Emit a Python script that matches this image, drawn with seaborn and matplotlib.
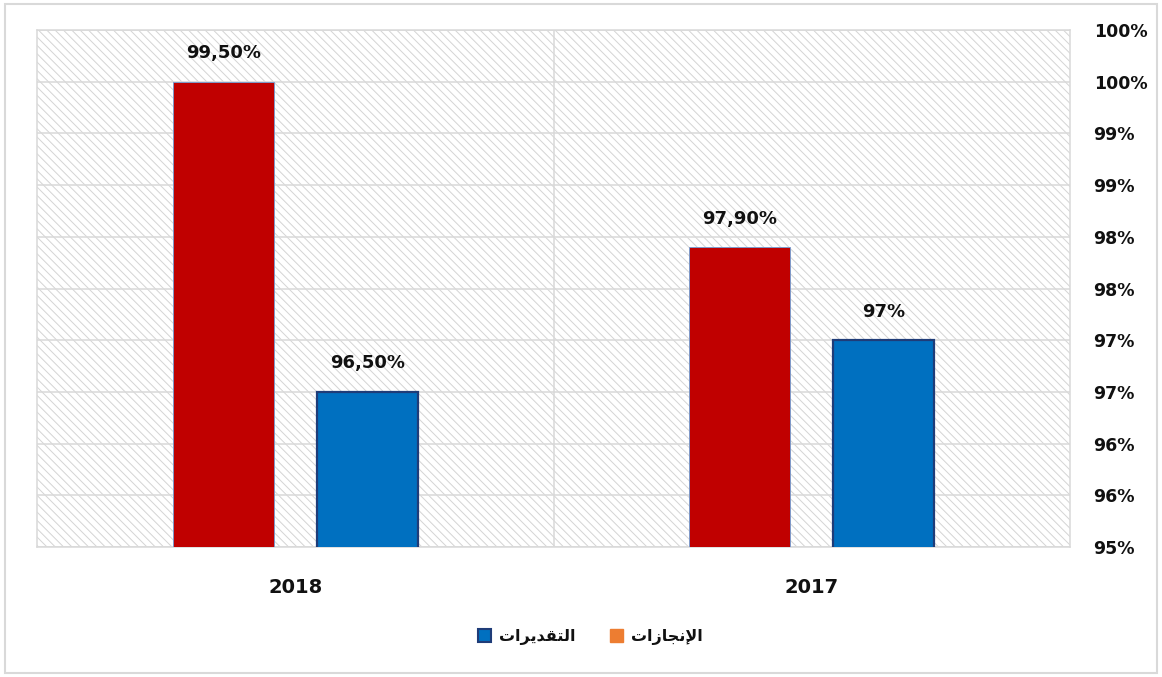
import pandas as pd
import matplotlib
matplotlib.use("Agg")
import matplotlib.pyplot as plt
import matplotlib.patches as mpatches
from matplotlib.ticker import FixedLocator, FuncFormatter
import seaborn as sns

# ----------------------------
# Data
# ----------------------------
years = ["2018", "2017"]
# Arabic labels already in presentation forms, visual order (matplotlib has no shaping)
achieved_name = "\uFE95\uFE8D\uFEAF\uFE8E\uFEA0\uFEE7\uFEF9\uFE8D"   # الإنجازات
estimate_name = "\uFE95\uFE8D\uFEAE\uFEF3\uFEAA\uFED8\uFE98\uFEDF\uFE8D"  # التقديرات
achieved = [0.995, 0.979]
estimates = [0.965, 0.970]
value_labels_achieved = ["99,50%", "97,90%"]
value_labels_estimates = ["96,50%", "97%"]
y_ticks = [0.95, 0.955, 0.96, 0.965, 0.97, 0.975, 0.98, 0.985, 0.99, 0.995, 1.0]

df = pd.DataFrame({
    "year": years * 2,
    "value": achieved + estimates,
    "series": [achieved_name] * 2 + [estimate_name] * 2,
})

RED = "#C00000"
BLUE = "#0070C0"
ORANGE = "#ED7D31"
TEXT = "#111111"

sns.set_style("white")
plt.rcParams["font.family"] = ["DejaVu Sans"]
plt.rcParams["hatch.linewidth"] = 0.7

fig = plt.figure(figsize=(11.62, 6.77), dpi=100)
ax = fig.add_axes([37 / 1162, 1 - 547 / 677, (1070 - 37) / 1162, 517 / 677])

# hatched plot area background
bg = mpatches.Rectangle((0, 0), 1, 1, transform=ax.transAxes, facecolor="white",
                        edgecolor="#D4D4D4", hatch="\\\\\\\\", linewidth=0, zorder=0)
ax.add_patch(bg)
ax.set_facecolor("none")

sns.barplot(data=df, x="year", y="value", hue="series", order=years,
            hue_order=[achieved_name, estimate_name],
            palette=[RED, BLUE], saturation=1, width=0.558, gap=0.3, ax=ax,
            legend=False, zorder=3)

for b in ax.containers[0]:
    b.set_edgecolor("#6FA0D8")
    b.set_linewidth(0.6)
for b in ax.containers[1]:
    b.set_edgecolor("#1F3C78")
    b.set_linewidth(1.6)

ax.set_ylim(0.95, 1.0)
ax.set_xlim(-0.5, 1.5)

# value labels
for container, labs in zip(ax.containers, [value_labels_achieved, value_labels_estimates]):
    ax.bar_label(container, labels=labs, padding=14, fontsize=13, fontweight="bold",
                 color=TEXT)

# axes styling
ax.yaxis.tick_right()
ax.yaxis.set_major_locator(FixedLocator(y_ticks))
ax.yaxis.set_major_formatter(FuncFormatter(lambda v, p: f"{round(v * 100 + 1e-9):.0f}%"))
ax.tick_params(axis="y", length=0, pad=17, labelsize=12.5)
ax.tick_params(axis="x", length=0, pad=22, labelsize=14)
for lab in ax.get_yticklabels() + ax.get_xticklabels():
    lab.set_fontweight("bold")
    lab.set_color(TEXT)
ax.set_xlabel("")
ax.set_ylabel("")

ax.grid(axis="y", color="#D9D9D9", linewidth=1.1, zorder=1)
ax.axvline(0.5, color="#D9D9D9", linewidth=1.1, zorder=1)
for s in ax.spines.values():
    s.set_color("#D9D9D9")
    s.set_linewidth(1.1)

# legend (as in the original, the first entry uses an orange square)
handles = [
    mpatches.Patch(facecolor=BLUE, edgecolor="#1F3C78", linewidth=1.5, label=estimate_name),
    mpatches.Patch(facecolor=ORANGE, edgecolor=ORANGE, label=achieved_name),
]
leg = fig.legend(handles=handles, loc="center", bbox_to_anchor=(0.508, 1 - 637 / 677), ncol=2,
                 frameon=False, prop={"weight": "bold", "size": 11.5}, handlelength=0.8,
                 handleheight=0.8, handletextpad=0.5, columnspacing=2.2)
for t in leg.get_texts():
    t.set_color(TEXT)

# outer border
fig.patches.append(mpatches.Rectangle((0.004, 0.006), 0.992, 0.988, transform=fig.transFigure,
                                      fill=False, edgecolor="#D9D9D9", linewidth=1.5))

fig.savefig("out.png", dpi=100)
